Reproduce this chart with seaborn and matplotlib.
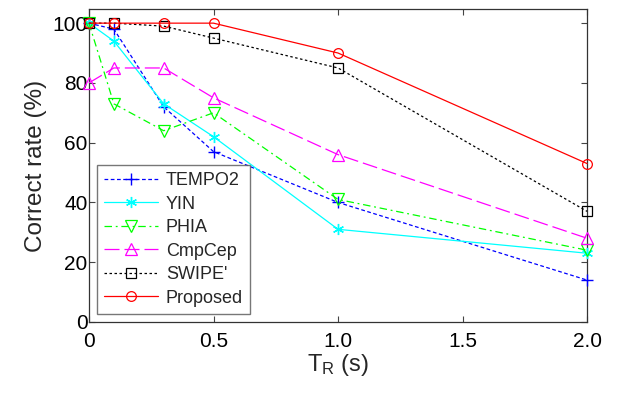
import pandas as pd
import seaborn as sns
import matplotlib.pyplot as plt

t_r = [0, 0.1, 0.3, 0.5, 1.0, 2.0]
methods = ["TEMPO2", "YIN", "PHIA", "CmpCep", "SWIPE'", "Proposed"]

tempo2 = [100, 98, 72, 57, 40, 14]
yin = [100, 94, 73, 62, 31, 23]
phia = [100, 73, 64, 70, 41, 24]
cmpcep = [80, 85, 85, 75, 56, 28]
swipe = [100, 100, 99, 95, 85, 37]
proposed = [100, 100, 100, 100, 90, 53]

x_ticks = [0, 0.5, 1.0, 1.5, 2.0]
x_labels = ["0", "0.5", "1.0", "1.5", "2.0"]
y_ticks = [0, 20, 40, 60, 80, 100]

rows = []
for name, vals in zip(methods, [tempo2, yin, phia, cmpcep, swipe, proposed]):
    for x, v in zip(t_r, vals):
        rows.append({"TR": x, "rate": v, "method": name})
df = pd.DataFrame(rows)

sns.set_theme(style="ticks")
plt.rcParams["font.family"] = ["Liberation Sans", "DejaVu Sans"]

# asterisk marker for YIN, as in the MATLAB original
styles = {
    "TEMPO2": dict(color="#0000ff", ls=(0, (3, 2)), marker="+", ms=9, mew=1.0),
    "YIN": dict(color="#00ffff", ls="-", marker=(6, 2, 0), ms=8, mew=1.0),
    "PHIA": dict(color="#00ff00", ls=(0, (6, 3, 1.5, 3)), marker="v", ms=9, mew=0.9),
    "CmpCep": dict(color="#ff00ff", ls=(0, (12, 4)), marker="^", ms=9, mew=0.9),
    "SWIPE'": dict(color="#000000", ls=(0, (2, 2)), marker="s", ms=7, mew=0.9),
    "Proposed": dict(color="#ff0000", ls="-", marker="o", ms=7, mew=0.9),
}

fig = plt.figure(figsize=(6.2, 3.96), dpi=100)
ax = fig.add_axes([0.1435, 0.187, 0.8035, 0.79])

for name in methods:
    st = styles[name]
    sub = df[df["method"] == name]
    sns.lineplot(data=sub, x="TR", y="rate", ax=ax, label=name,
                 color=st["color"], linestyle=st["ls"], linewidth=0.9,
                 marker=st["marker"], markersize=st["ms"],
                 markerfacecolor="none", markeredgecolor=st["color"],
                 markeredgewidth=st["mew"], clip_on=False, zorder=3)

ax.set_xlim(0, 2.0)
ax.set_ylim(0, 104.7)
ax.set_xticks(x_ticks)
ax.set_xticklabels(x_labels)
ax.set_yticks(y_ticks)
ax.tick_params(direction="in", length=4, width=0.8, labelsize=15,
               top=True, right=True, colors="#444444", labelcolor="black")
ax.tick_params(axis="y", pad=1)
ax.tick_params(axis="x", pad=7)
for s in ax.spines.values():
    s.set_color("#333333")
    s.set_linewidth(0.9)

ax.set_xlabel(r"$\mathregular{T_R}$ (s)", fontsize=17, labelpad=1)
ax.set_ylabel("Correct rate (%)", fontsize=17.5, labelpad=4)

leg = ax.legend(loc="lower left", fontsize=13, frameon=True, fancybox=False,
                borderaxespad=0.45, handlelength=3.0, labelspacing=0.36,
                borderpad=0.4, handletextpad=0.4)
leg.get_frame().set_edgecolor("#555555")
leg.get_frame().set_linewidth(1.0)
leg.set_zorder(5)

fig.savefig("out.png", dpi=100)
